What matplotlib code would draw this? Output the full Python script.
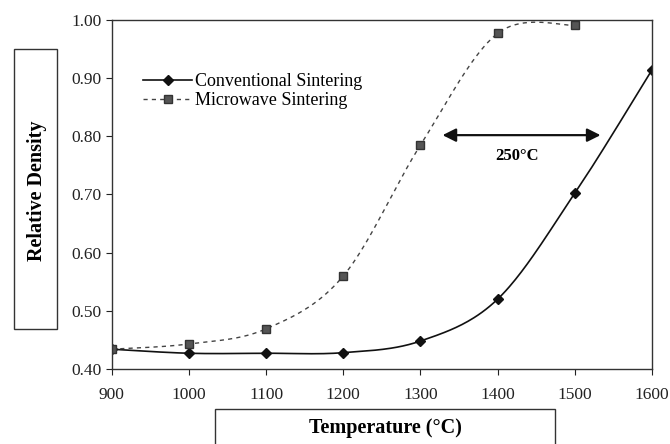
import numpy as np
import matplotlib.pyplot as plt
from matplotlib.patches import Rectangle

# data
temperature = [900, 1000, 1100, 1200, 1300, 1400, 1500, 1600]
conventional = [0.434, 0.427, 0.427, 0.428, 0.448, 0.520, 0.702, 0.914]
microwave_t = [900, 1000, 1100, 1200, 1300, 1400, 1500]
microwave = [0.434, 0.443, 0.469, 0.560, 0.785, 0.977, 0.991]

x_ticks = [900, 1000, 1100, 1200, 1300, 1400, 1500, 1600]
x_tick_labels = ['900', '1000', '1100', '1200', '1300', '1400', '1500', '1600']
y_ticks = [0.40, 0.50, 0.60, 0.70, 0.80, 0.90, 1.00]


def smooth(xs, ys, n=40):
    # Excel style smoothed line (catmull-rom through the points)
    xs = np.asarray(xs, float)
    ys = np.asarray(ys, float)
    px = np.concatenate([[xs[0]], xs, [xs[-1]]])
    py = np.concatenate([[ys[0]], ys, [ys[-1]]])
    out_x, out_y = [], []
    for i in range(1, len(px) - 2):
        t = np.linspace(0, 1, n)
        for p, out in ((px, out_x), (py, out_y)):
            p0, p1, p2, p3 = p[i - 1], p[i], p[i + 1], p[i + 2]
            c1 = p1 + (p2 - p0) / 6
            c2 = p2 - (p3 - p1) / 6
            out.extend((1 - t) ** 3 * p1 + 3 * (1 - t) ** 2 * t * c1
                       + 3 * (1 - t) * t ** 2 * c2 + t ** 3 * p2)
    return out_x, out_y


plt.rcParams['font.family'] = ['Liberation Serif', 'DejaVu Serif']

fig = plt.figure(figsize=(6.7, 4.44), dpi=100)
ax = fig.add_axes([0.167, 0.169, 0.806, 0.786])

cx, cy = smooth(temperature, conventional)
mx, my = smooth(microwave_t, microwave)
ax.plot(cx, cy, color='#111111', lw=1.2)
ax.plot(mx, my, color='#444444', lw=1.0, ls=(0, (3, 3)))
ax.plot(temperature, conventional, ls='none', marker='D', ms=5.5,
        color='#111111')
ax.plot(microwave_t, microwave, ls='none', marker='s', ms=5.5,
        color='#555555', mec='#333333')

# legend entries
ax.plot([], [], color='#111111', lw=1.2, marker='D', ms=5.5,
        label='Conventional Sintering')
ax.plot([], [], color='#444444', lw=1.0, ls=(0, (3, 3)), marker='s', ms=5.5,
        mfc='#555555', mec='#333333', label='Microwave Sintering')
handles, labels = ax.get_legend_handles_labels()
ax.legend(handles[-2:], labels[-2:], loc='upper left',
          bbox_to_anchor=(0.035, 0.883), frameon=False, fontsize=13,
          handlelength=2.7, handletextpad=0.15, labelspacing=0.1,
          borderpad=0.2)

# 250 degree gap marker
ax.annotate('', xy=(1537, 0.802), xytext=(1325, 0.802),
            arrowprops=dict(arrowstyle='<|-|>', color='#111111', lw=1.6,
                            mutation_scale=20))
ax.text(1425, 0.767, '250°C', ha='center', va='center', fontsize=12,
        fontweight='bold')

ax.set_xlim(900, 1600)
ax.set_ylim(0.40, 1.00)
ax.set_xticks(x_ticks)
ax.set_xticklabels(x_tick_labels)
ax.set_yticks(y_ticks)
ax.set_yticklabels(['%.2f' % v for v in y_ticks])
ax.tick_params(labelsize=12.5, length=4, width=0.8, colors='#222222')
ax.tick_params(axis='x', pad=9)
for s in ax.spines.values():
    s.set_linewidth(1.0)
    s.set_color('#333333')

# axis titles in their boxes
fig.text(0.055, 0.57, 'Relative Density', rotation=90, ha='center',
         va='center', fontsize=14.5, fontweight='bold')
fig.patches.append(Rectangle((0.021, 0.259), 0.064, 0.63,
                             transform=fig.transFigure, fill=False,
                             lw=1.0, ec='#333333'))
fig.text(0.575, 0.036, 'Temperature (°C)', ha='center', va='center',
         fontsize=14.5, fontweight='bold')
fig.patches.append(Rectangle((0.321, -0.02), 0.507, 0.099,
                             transform=fig.transFigure, fill=False,
                             lw=1.0, ec='#333333'))

fig.savefig('out.png', dpi=100)
